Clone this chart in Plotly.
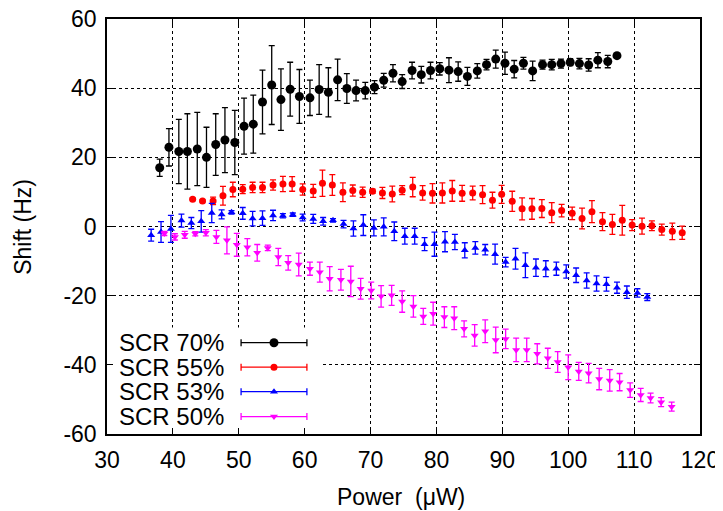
import plotly.graph_objects as go

# ---------------- data ----------------
p70 = [38.0, 39.4, 40.9, 42.2, 43.7, 45.1, 46.5, 47.9, 49.4, 50.8, 52.2, 53.6, 55.0, 56.4, 57.8, 59.2, 60.8, 62.2, 63.6, 65.0,
       66.4, 67.8, 69.2, 70.6, 72.0, 73.4, 74.8, 76.3, 77.7, 79.1, 80.5, 81.9, 83.3, 84.7, 86.2, 87.6, 89.0, 90.4, 91.8, 93.2,
       94.6, 96.1, 97.5, 98.9, 100.3, 101.7, 103.1, 104.5, 106.0, 107.4]
s70 = [17.0, 22.9, 21.7, 21.7, 22.4, 20.0, 23.7, 25.0, 24.3, 29.0, 29.6, 36.0, 40.9, 36.7, 39.7, 37.6, 37.2, 39.6, 38.8, 42.4,
       39.9, 39.3, 39.3, 40.3, 42.3, 44.3, 41.9, 45.1, 43.9, 45.1, 45.6, 45.2, 44.8, 43.4, 45.0, 46.8, 48.4, 47.2, 45.5, 47.2,
       45.0, 46.8, 46.8, 47.1, 47.5, 47.1, 46.7, 48.1, 47.7, 49.4]
e70 = [2.5, 5.4, 9.3, 10.9, 10.6, 8.7, 8.9, 9.4, 9.3, 8.1, 8.4, 9.2, 11.4, 8.9, 7.8, 7.8, 5.1, 7.2, 7.1, 6.0,
       4.3, 3.0, 2.4, 1.9, 2.0, 2.5, 2.0, 2.4, 2.4, 2.4, 1.8, 3.6, 2.8, 2.6, 2.1, 1.5, 2.6, 3.2, 2.5, 1.7,
       2.8, 1.3, 1.5, 1.3, 1.0, 1.5, 1.8, 2.2, 1.8, 0.5]

p55 = [43.0, 44.5, 46.1, 47.6, 49.1, 50.6, 52.1, 53.6, 55.2, 56.7, 58.1, 59.7, 61.3, 62.7, 64.2, 65.8, 67.3, 68.8, 70.3, 71.8,
       73.3, 74.8, 76.4, 77.9, 79.4, 80.9, 82.4, 83.9, 85.5, 87.0, 88.5, 89.9, 91.5, 93.0, 94.5, 96.0, 97.5, 99.0, 100.6, 102.1,
       103.6, 105.2, 106.7, 108.2, 109.7, 111.2, 112.7, 114.2, 115.8, 117.3]
s55 = [7.9, 7.4, 7.4, 8.9, 10.7, 10.8, 11.3, 11.3, 12.0, 12.3, 12.3, 10.7, 10.3, 12.5, 12.0, 9.9, 10.4, 9.9, 10.2, 9.7,
       9.4, 10.5, 11.4, 9.7, 9.6, 9.7, 10.3, 9.6, 9.7, 9.2, 7.6, 9.3, 7.3, 5.1, 5.1, 5.2, 4.0, 4.6, 3.8, 2.3,
       4.3, 1.4, 0.6, 1.8, 0.4, 0.1, 0.2, -0.9, -1.4, -1.8]
e55 = [0.3, 0.3, 1.1, 2.7, 2.1, 1.3, 1.5, 1.5, 1.5, 2.2, 2.1, 1.6, 1.9, 3.8, 3.0, 2.7, 1.6, 1.5, 0.6, 1.6,
       2.3, 1.3, 2.8, 2.1, 2.8, 2.9, 3.0, 2.3, 2.0, 2.6, 2.3, 2.6, 2.9, 3.2, 3.0, 2.6, 2.9, 1.8, 1.8, 3.0,
       3.2, 2.6, 2.9, 4.3, 1.6, 2.3, 1.4, 1.6, 2.4, 1.9]

p53 = [36.7, 38.2, 39.7, 41.3, 42.8, 44.3, 45.9, 47.4, 48.9, 50.6, 52.1, 53.6, 55.2, 56.7, 58.2, 59.7, 61.3, 62.8, 64.3, 65.9,
       67.4, 68.9, 70.5, 72.0, 73.6, 75.2, 76.7, 78.2, 79.7, 81.3, 82.8, 84.3, 85.9, 87.4, 88.9, 90.5, 92.0, 93.5, 95.1, 96.6,
       98.2, 99.7, 101.2, 102.8, 104.3, 105.8, 107.4, 108.9, 110.5, 112.0]
s53 = [-2.5, -1.6, -0.7, 1.7, 1.0, 1.5, 3.9, 3.5, 4.1, 3.8, 2.3, 2.4, 3.2, 3.1, 3.4, 2.6, 2.2, 1.5, 1.8, 0.7,
       -0.6, 0.4, -0.4, -0.1, -1.4, -2.8, -2.8, -5.1, -5.1, -4.4, -4.5, -6.9, -6.2, -6.7, -8.0, -10.3, -9.3, -11.2, -11.9, -12.2,
       -12.2, -13.0, -14.1, -15.6, -16.5, -16.7, -17.7, -19.0, -19.2, -20.4]
e53 = [1.7, 3.0, 3.9, 1.9, 1.6, 3.1, 2.8, 1.3, 0.5, 1.7, 2.1, 2.1, 1.5, 0.6, 0.5, 1.0, 1.3, 1.1, 0.5, 1.1,
       2.2, 3.0, 2.3, 2.6, 2.7, 2.3, 2.3, 1.9, 3.5, 2.9, 2.2, 2.2, 1.8, 1.5, 2.9, 1.4, 3.0, 3.6, 2.5, 2.3,
       1.9, 1.9, 2.1, 2.2, 2.2, 2.0, 1.6, 1.8, 1.2, 1.0]

p50 = [38.7, 40.3, 41.8, 43.4, 45.0, 46.6, 48.2, 49.7, 51.3, 52.8, 54.4, 56.0, 57.5, 59.1, 60.8, 62.3, 63.8, 65.5, 67.0, 68.5,
       70.1, 71.6, 73.2, 74.8, 76.5, 78.0, 79.5, 81.2, 82.7, 84.2, 85.8, 87.4, 89.0, 90.5, 92.1, 93.7, 95.3, 96.9, 98.4, 100.0,
       101.6, 103.1, 104.7, 106.3, 107.8, 109.4, 111.0, 112.5, 114.1, 115.7]
s50 = [-2.0, -3.0, -2.4, -2.1, -1.8, -3.0, -4.0, -5.3, -6.0, -7.6, -6.2, -8.8, -10.5, -11.0, -12.2, -13.2, -15.1, -15.4, -15.9, -18.0,
       -18.5, -20.2, -19.9, -21.7, -23.1, -26.0, -25.2, -26.2, -26.5, -29.6, -31.5, -30.3, -32.8, -32.5, -35.7, -35.7, -36.8, -38.1, -39.2, -40.7,
       -41.9, -42.4, -44.1, -44.5, -45.0, -47.3, -48.7, -49.6, -50.8, -52.1]
e50 = [0.6, 0.9, 1.0, 0.6, 0.9, 1.9, 3.9, 3.3, 2.5, 2.4, 0.8, 2.5, 2.1, 3.3, 1.9, 2.9, 3.5, 3.0, 4.4, 3.0,
       2.4, 3.1, 2.9, 3.1, 3.1, 2.3, 3.3, 3.0, 3.3, 2.3, 3.1, 3.3, 3.7, 2.8, 3.4, 3.4, 2.9, 2.9, 3.0, 3.6,
       2.6, 2.8, 3.1, 3.1, 2.5, 2.1, 1.9, 1.4, 1.3, 1.3]

series_names = ["SCR 70%", "SCR 55%", "SCR 53%", "SCR 50%"]
series_colors = ["#000000", "#ff0000", "#0000ff", "#ff00ff"]
series_symbols = ["circle", "circle", "triangle-up", "triangle-down"]
series_sizes = [9, 7, 7, 7]

x_ticks = [30, 40, 50, 60, 70, 80, 90, 100, 110, 120]
x_ticktext = ["30", "40", "50", "60", "70", "80", "90", "100", "110", "120"]
y_ticks = [-60, -40, -20, 0, 20, 40, 60]
y_ticktext = ["-60", "-40", "-20", "0", "20", "40", "60"]

FONT = "Liberation Sans, Arial, sans-serif"

fig = go.Figure()
data = [(p70, s70, e70), (p55, s55, e55), (p53, s53, e53), (p50, s50, e50)]
for (px, sy, er), name, col, sym, sz in zip(data, series_names, series_colors, series_symbols, series_sizes):
    fig.add_trace(go.Scatter(
        x=px, y=sy, mode="markers", name=name, showlegend=False,
        marker=dict(symbol=sym, size=sz, color=col, line=dict(width=0)),
        error_y=dict(type="data", array=er, visible=True, color=col, thickness=1.3, width=3),
    ))

# manual gnuplot-style key (text left, sample right) on an overlay axis 0..1
key_rows = [0.220, 0.161, 0.102, 0.042]
for name, col, sym, sz, ky in zip(series_names, series_colors, series_symbols, series_sizes, key_rows):
    fig.add_trace(go.Scatter(
        x=[0.2816], y=[ky], xaxis="x2", yaxis="y2", mode="markers", showlegend=False, hoverinfo="skip",
        marker=dict(symbol=sym, size=sz, color=col, line=dict(width=0)),
        error_x=dict(type="data", array=[0.0555], visible=True, color=col, thickness=1.3, width=3.5),
    ))
    fig.add_annotation(xref="paper", yref="paper", x=0.0174, y=ky, xanchor="left", yanchor="middle",
                       text=name, showarrow=False, font=dict(family=FONT, size=24, color="black"))

# white key box hiding the grid
fig.add_shape(type="rect", xref="x", yref="y", x0=30, x1=62.5, y0=-60, y1=-29.2,
              fillcolor="white", line=dict(width=0), layer="between")

axis_common = dict(showline=True, linecolor="black", linewidth=1.5, mirror="ticks",
                   ticks="inside", ticklen=6, tickwidth=1, tickcolor="black",
                   showgrid=True, gridcolor="black", gridwidth=1, griddash="dot",
                   zeroline=False, automargin=False, ticklabeloverflow="allow",
                   tickfont=dict(family=FONT, size=23, color="black"))

# page body has an 8px margin, so the figure is sized/offset to land the plot area at 107..700 x 19..434
fig.update_layout(
    width=715, height=503,
    margin=dict(l=99, r=23, t=11, b=77),
    paper_bgcolor="white", plot_bgcolor="white",
    font=dict(family=FONT, color="black"),
    xaxis=dict(range=[30, 120], tickvals=x_ticks, ticktext=x_ticktext, ticklabelstandoff=5, **axis_common),
    yaxis=dict(range=[-60, 60], tickvals=y_ticks, ticktext=y_ticktext, ticklabelstandoff=4, **axis_common),
    xaxis2=dict(overlaying="x", range=[0, 1], visible=False, automargin=False),
    yaxis2=dict(overlaying="y", range=[0, 1], visible=False, automargin=False),
)

fig.add_annotation(xref="paper", yref="paper", x=0.496, y=-0.151, xanchor="center", yanchor="middle",
                   text="Power  (\u03bcW)", showarrow=False, font=dict(family=FONT, size=23, color="black"))
fig.add_annotation(xref="paper", yref="paper", x=-0.1428, y=0.5, xanchor="center", yanchor="middle",
                   text="Shift (Hz)", textangle=-90, showarrow=False, font=dict(family=FONT, size=23, color="black"))

fig.write_html("out.html")
